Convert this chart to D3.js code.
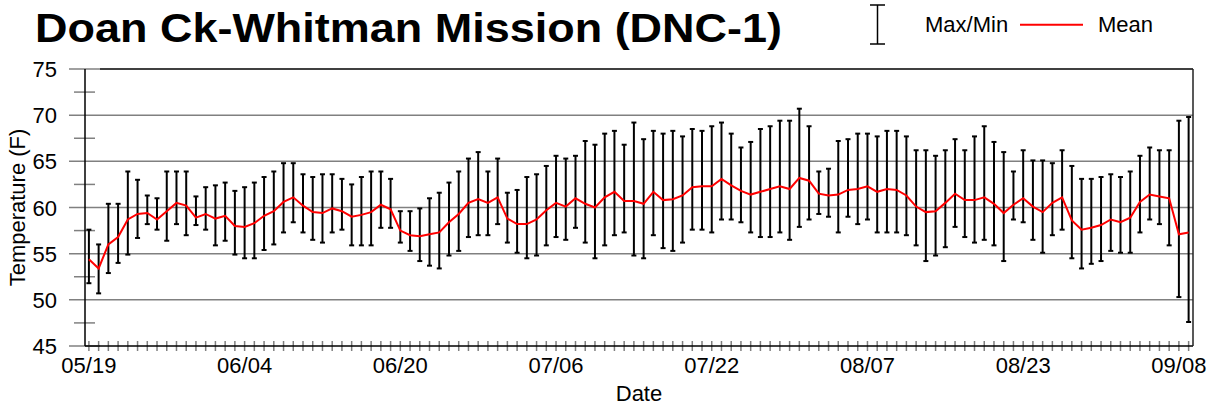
<!DOCTYPE html>
<html>
<head>
<meta charset="utf-8">
<script src="https://cdn.jsdelivr.net/npm/d3@7"></script>
<style>
  html, body { margin: 0; padding: 0; background: #fff; }
  svg { display: block; font-family: "Liberation Sans", Arial, sans-serif; }
</style>
</head>
<body>
<svg id="chart" width="1219" height="409"></svg>
<script>
// ---- data ----
const title = "Doan Ck-Whitman Mission (DNC-1)";
const startDate = "2000-05-19";
const tickLabels = ["05/19", "06/04", "06/20", "07/06", "07/22", "08/07", "08/23", "09/08"];
const yTicks = [45, 50, 55, 60, 65, 70, 75];

const maxVals = [
  57.6, 56.0, 60.4, 60.4, 63.9, 63.0, 61.3, 61.0, 63.9, 63.9,
  63.9, 61.2, 62.2, 62.4, 62.7, 61.8, 62.2, 62.7, 63.3, 63.9,
  64.8, 64.8, 63.6, 63.3, 63.6, 63.6, 63.1, 62.5, 63.3, 63.9,
  63.9, 63.1, 59.6, 59.6, 59.9, 61.0, 61.6, 62.7, 63.9, 65.3,
  66.0, 63.9, 65.3, 61.6, 61.9, 63.3, 63.6, 64.5, 65.6, 65.3,
  65.6, 67.2, 66.8, 68.0, 68.3, 66.8, 69.2, 67.4, 68.3, 68.0,
  68.3, 67.7, 68.5, 68.3, 68.8, 69.2, 68.0, 66.5, 67.1, 68.5,
  68.8, 69.4, 69.4, 70.7, 68.8, 63.9, 64.2, 67.2, 67.4, 68.0,
  68.0, 67.7, 68.3, 68.3, 67.7, 66.2, 66.2, 65.6, 66.2, 67.4,
  66.2, 67.7, 68.8, 67.1, 66.0, 63.9, 66.2, 65.1, 65.1, 64.8,
  66.2, 64.5, 63.1, 63.1, 63.3, 63.6, 63.3, 63.9, 65.6, 66.5,
  66.2, 66.2, 69.4, 69.8
];
const minVals = [
  51.8, 50.7, 52.9, 54.0, 54.9, 56.7, 58.2, 57.6, 56.4, 58.2,
  57.0, 58.1, 57.6, 55.9, 56.4, 54.9, 54.5, 54.5, 55.4, 56.0,
  57.3, 58.4, 57.3, 56.5, 56.2, 57.3, 57.6, 55.9, 55.9, 55.9,
  57.8, 57.8, 56.2, 55.3, 54.2, 53.7, 53.4, 54.8, 55.3, 56.8,
  57.0, 57.0, 58.2, 56.2, 55.1, 54.5, 54.8, 55.9, 56.8, 56.5,
  57.8, 56.2, 54.5, 55.9, 57.0, 57.3, 54.8, 54.5, 57.0, 55.6,
  55.3, 56.2, 57.6, 57.6, 57.3, 58.7, 58.7, 58.4, 57.3, 56.8,
  56.8, 57.3, 56.5, 57.9, 58.7, 59.3, 59.0, 57.3, 59.0, 58.2,
  58.7, 57.3, 57.3, 57.3, 57.0, 55.9, 54.2, 54.8, 55.7, 57.9,
  56.8, 56.2, 56.5, 55.9, 54.2, 58.7, 58.4, 56.5, 55.1, 57.0,
  57.6, 54.5, 53.4, 53.9, 54.2, 55.3, 55.1, 55.1, 57.3, 58.7,
  58.2, 55.9, 50.3, 47.6
];
const meanVals = [
  54.4, 53.4, 56.0, 56.8, 58.7, 59.3, 59.4, 58.7, 59.6, 60.5,
  60.2, 58.9, 59.3, 58.8, 59.1, 58.0, 57.9, 58.3, 59.1, 59.6,
  60.6, 61.1, 60.2, 59.5, 59.4, 59.9, 59.6, 59.0, 59.2, 59.5,
  60.3, 59.8, 57.5, 57.0, 56.9, 57.1, 57.3, 58.4, 59.3, 60.5,
  60.9, 60.5, 61.1, 58.8, 58.2, 58.2, 58.7, 59.7, 60.5, 60.1,
  61.0, 60.4, 60.0, 61.1, 61.7, 60.7, 60.7, 60.4, 61.7, 60.8,
  60.9, 61.3, 62.2, 62.3, 62.3, 63.1, 62.4, 61.8, 61.4, 61.7,
  62.0, 62.3, 62.0, 63.2, 62.9, 61.5, 61.3, 61.4, 61.9, 62.0,
  62.3, 61.7, 62.0, 61.9, 61.3, 60.1, 59.5, 59.6, 60.5, 61.5,
  60.8, 60.8, 61.1, 60.4, 59.4, 60.3, 61.0, 60.1, 59.5, 60.5,
  61.1, 58.6, 57.6, 57.8, 58.1, 58.7, 58.4, 58.9, 60.6, 61.4,
  61.2, 61.0, 57.1, 57.3
];

// ---- layout ----
const svg = d3.select("#chart");
const L = 85, R = 1193, T = 69, B = 346;
const day = 864e5;
const start = new Date(startDate + "T00:00:00Z");
const dates = meanVals.map((_, i) => d3.utcDay.offset(start, i));
const parseLbl = d3.utcParse("%Y-%m/%d");
const x = d3.scaleUtc()
  .domain([new Date(+dates[0] - 0.4 * day), new Date(+dates[dates.length - 1] + 0.45 * day)])
  .range([L, R]);
const y = d3.scaleLinear().domain([45, 75]).range([B, T]);

const data = dates.map((d, i) => ({ d, max: maxVals[i], min: minVals[i], mean: meanVals[i] }));

// title
svg.append("text").attr("x", 35).attr("y", 42)
  .attr("font-size", 40).attr("font-weight", "bold").attr("fill", "#000")
  .attr("textLength", 747).attr("lengthAdjust", "spacingAndGlyphs")
  .text(title);

// gridlines + major y ticks
const grid = "#808080";
svg.append("g").selectAll("line").data(yTicks).join("line")
  .attr("x1", 69).attr("x2", d => (d === 45 || d === 75) ? L + 15 : R)
  .attr("y1", d => y(d)).attr("y2", d => y(d))
  .attr("stroke", grid).attr("stroke-width", 1.5);

// minor y ticks
const minor = d3.range(47.5, 75, 5);
svg.append("g").selectAll("line").data(minor).join("line")
  .attr("x1", 74).attr("x2", 95)
  .attr("y1", d => y(d)).attr("y2", d => y(d))
  .attr("stroke", grid).attr("stroke-width", 1.5);

// x daily ticks
svg.append("g").selectAll("line").data(dates).join("line")
  .attr("x1", d => x(d)).attr("x2", d => x(d))
  .attr("y1", B - 5).attr("y2", B + 5)
  .attr("stroke", grid).attr("stroke-width", 1.5);

// frame
const frame = svg.append("g").attr("stroke", "#000").attr("stroke-width", 1.5);
frame.append("line").attr("x1", L + 15).attr("x2", R).attr("y1", T).attr("y2", T);
frame.append("line").attr("x1", L).attr("x2", R).attr("y1", B).attr("y2", B);
frame.append("line").attr("x1", L).attr("x2", L).attr("y1", T).attr("y2", B);
frame.append("line").attr("x1", R).attr("x2", R).attr("y1", T).attr("y2", B).attr("stroke", "#222");

// y tick labels
svg.append("g").selectAll("text").data(yTicks).join("text")
  .attr("x", 57).attr("y", d => y(d) + 8)
  .attr("text-anchor", "end").attr("font-size", 22).text(d => d);

// x tick labels
svg.append("g").selectAll("text").data(tickLabels).join("text")
  .attr("x", (d, i) => x(dates[i * 16]))
  .attr("y", 373).attr("text-anchor", "middle").attr("font-size", 22).text(d => d);

// axis titles
svg.append("text").attr("x", 639).attr("y", 401).attr("text-anchor", "middle")
  .attr("font-size", 22).text("Date");
svg.append("text").attr("transform", `translate(25,${(T + B) / 2}) rotate(-90)`)
  .attr("text-anchor", "middle").attr("font-size", 22).text("Temperature (F)");

// error bars
const eb = svg.append("g").attr("stroke", "#000").attr("stroke-width", 2);
eb.selectAll("line.v").data(data).join("line").attr("class", "v")
  .attr("x1", d => x(d.d)).attr("x2", d => x(d.d))
  .attr("y1", d => y(d.max)).attr("y2", d => y(d.min));
eb.selectAll("line.t").data(data).join("line").attr("class", "t")
  .attr("x1", d => x(d.d) - 2.5).attr("x2", d => x(d.d) + 2.5)
  .attr("y1", d => y(d.max)).attr("y2", d => y(d.max));
eb.selectAll("line.b").data(data).join("line").attr("class", "b")
  .attr("x1", d => x(d.d) - 2.5).attr("x2", d => x(d.d) + 2.5)
  .attr("y1", d => y(d.min)).attr("y2", d => y(d.min));

// mean line
svg.append("path").datum(data)
  .attr("fill", "none").attr("stroke", "#ff0000").attr("stroke-width", 2)
  .attr("d", d3.line().x(d => x(d.d)).y(d => y(d.mean)));

// legend
const lg = svg.append("g");
lg.append("line").attr("x1", 877.5).attr("x2", 877.5).attr("y1", 5).attr("y2", 44)
  .attr("stroke", "#000").attr("stroke-width", 1.5);
lg.append("line").attr("x1", 870).attr("x2", 885).attr("y1", 5).attr("y2", 5)
  .attr("stroke", "#000").attr("stroke-width", 1.5);
lg.append("line").attr("x1", 870).attr("x2", 885).attr("y1", 44).attr("y2", 44)
  .attr("stroke", "#000").attr("stroke-width", 1.5);
lg.append("text").attr("x", 925).attr("y", 32).attr("font-size", 22).text("Max/Min");
lg.append("line").attr("x1", 1020).attr("x2", 1083).attr("y1", 24.7).attr("y2", 24.7)
  .attr("stroke", "#ff0000").attr("stroke-width", 2);
lg.append("text").attr("x", 1098).attr("y", 32).attr("font-size", 22).text("Mean");
</script>
</body>
</html>
